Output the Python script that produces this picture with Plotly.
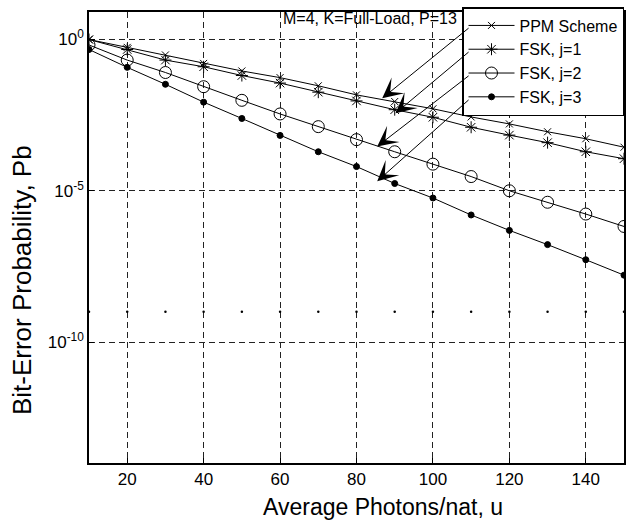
import plotly.graph_objects as go

# ---- data ----
u = [10, 20, 30, 40, 50, 60, 70, 80, 90, 100, 110, 120, 130, 140, 150]
log_ppm = [0.0, -0.26, -0.51, -0.79, -1.04, -1.26, -1.53, -1.83, -2.05, -2.29, -2.56, -2.79, -3.05, -3.28, -3.56]
log_fsk1 = [0.0, -0.33, -0.68, -0.90, -1.19, -1.44, -1.74, -2.03, -2.32, -2.57, -2.90, -3.16, -3.41, -3.71, -3.94]
log_fsk2 = [-0.18, -0.68, -1.09, -1.56, -2.01, -2.46, -2.88, -3.31, -3.71, -4.12, -4.53, -5.00, -5.38, -5.77, -6.18]
log_fsk3 = [-0.33, -0.92, -1.48, -2.07, -2.61, -3.17, -3.71, -4.20, -4.76, -5.24, -5.80, -6.31, -6.78, -7.28, -7.79]
dot_row_u = [10, 20, 30, 40, 50, 60, 70, 80, 90, 100, 110, 120, 130, 140, 150]
dot_row_pb = [1e-9] * len(dot_row_u)

series_names = ["PPM Scheme", "FSK, j=1", "FSK, j=2", "FSK, j=3"]
x_ticks = [20, 40, 60, 80, 100, 120, 140]
y_ticks = [1e0, 1e-5, 1e-10]
y_tick_text = ["10<sup>0</sup>", "10<sup>-5</sup>", "10<sup>-10</sup>"]

FONT = "Liberation Sans, Arial, Helvetica, sans-serif"

def to_pb(vals):
    return [10 ** v for v in vals]

fig = go.Figure()
styles = [
    dict(symbol="x-thin-open", size=7),
    dict(symbol="asterisk-open", size=10),
    dict(symbol="circle-open", size=12),
    dict(symbol="circle", size=6),
]
for name, vals, st in zip(series_names, [log_ppm, log_fsk1, log_fsk2, log_fsk3], styles):
    fig.add_trace(go.Scatter(
        x=u, y=to_pb(vals), name=name, mode="lines+markers",
        line=dict(color="black", width=1),
        marker=dict(symbol=st["symbol"], size=st["size"], color="black",
                    line=dict(color="black", width=1)),
    ))

fig.add_trace(go.Scatter(
    x=dot_row_u, y=dot_row_pb, mode="markers", showlegend=False,
    marker=dict(symbol="circle", size=2.5, color="black"), hoverinfo="skip",
))

# plot geometry (pixels) for placing annotations
L, R, T, B = 89, 626, 10, 463
W, H = 633, 522
Y0, Y1 = -14.0, 0.91
def px2x(px):
    return 10 + (px - L) / (R - L) * 140
def py2y(py):
    return Y1 - (py - T) / (B - T) * (Y1 - Y0)
def px2paper(px):
    return (px - L) / (R - L)
def py2paper(py):
    return (B - py) / (B - T)

arrows = [
    ((471.5, 25.0), (383.3, 96.7)),
    ((471.5, 49.0), (396.7, 111.7)),
    ((471.5, 73.0), (378.3, 145.0)),
    ((471.5, 97.0), (378.3, 180.0)),
]
for (tx, ty), (hx, hy) in arrows:
    fig.add_annotation(
        x=px2x(hx), y=py2y(hy), xref="x", yref="y",
        ax=px2x(tx), ay=py2y(ty), axref="x", ayref="y",
        showarrow=True, arrowhead=3, arrowsize=3.4, arrowwidth=1,
        arrowcolor="black", text="",
    )

fig.add_annotation(
    x=px2paper(282), y=py2paper(16.5), xref="paper", yref="paper",
    xanchor="left", yanchor="middle", showarrow=False,
    text="M=4, K=Full-Load, P=13", font=dict(family=FONT, size=16, color="black"),
)
fig.add_annotation(
    x=px2paper(384), y=py2paper(507), xref="paper", yref="paper",
    xanchor="center", yanchor="middle", showarrow=False,
    text="Average Photons/nat, u", font=dict(family=FONT, size=23, color="black"),
)
fig.add_annotation(
    x=px2paper(22), y=py2paper(279), xref="paper", yref="paper",
    xanchor="center", yanchor="middle", showarrow=False, textangle=-90,
    text="Bit-Error Probability, Pb", font=dict(family=FONT, size=26, color="black"),
)

axis_common = dict(
    showline=True, linecolor="black", linewidth=1.5, mirror=True,
    ticks="inside", ticklen=5, tickcolor="black",
    showgrid=True, gridcolor="#222222", gridwidth=1, griddash="6px,4px",
    zeroline=False, tickfont=dict(family=FONT, size=17, color="black"),
)
fig.update_xaxes(range=[10, 150], tickvals=x_ticks, **axis_common)
fig.update_yaxes(type="log", range=[Y0, Y1], tickvals=y_ticks, ticktext=y_tick_text, **axis_common)

fig.update_layout(
    width=W, height=H,
    margin=dict(l=L, r=W - R, t=T, b=H - B),
    plot_bgcolor="white", paper_bgcolor="white",
    font=dict(family=FONT, color="black"),
    showlegend=True,
    legend=dict(
        x=1, y=py2paper(5), xanchor="right", yanchor="top",
        bgcolor="white", bordercolor="black", borderwidth=1.5,
        font=dict(family=FONT, size=16, color="black"),
        itemwidth=46, tracegroupgap=0,
    ),
)

fig.write_html("out.html")
